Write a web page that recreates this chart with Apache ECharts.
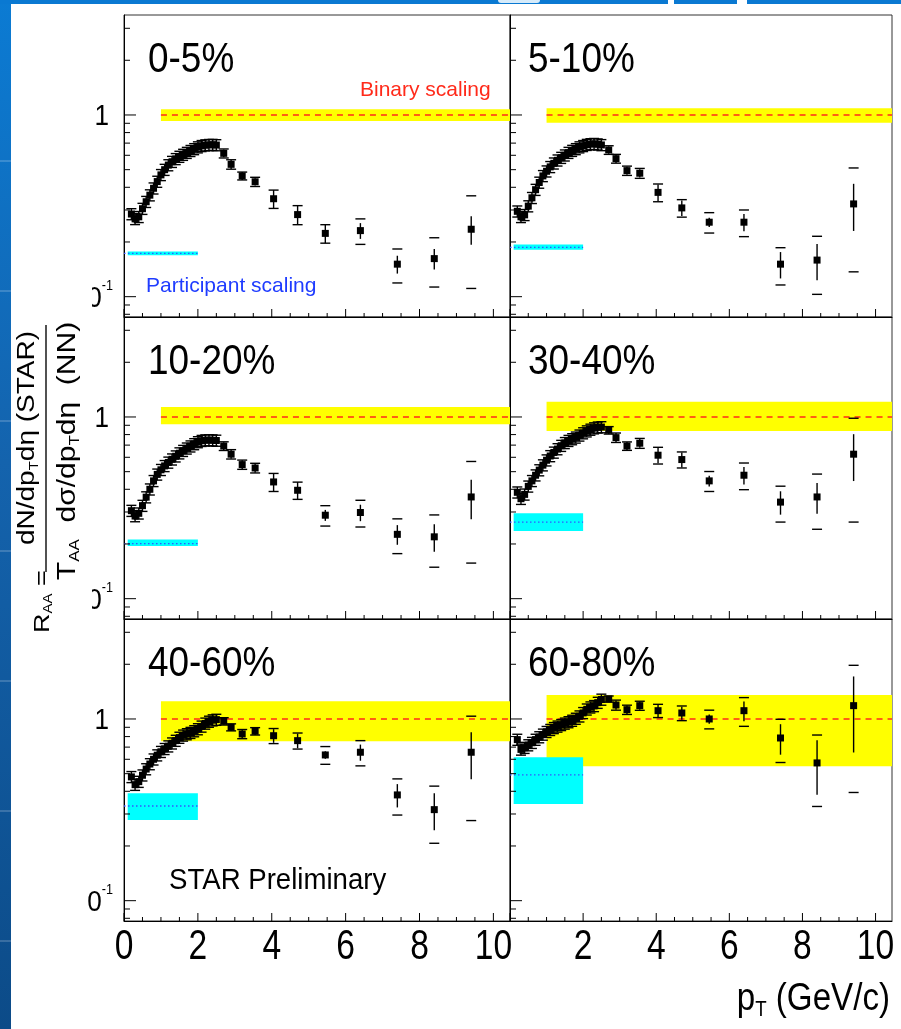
<!DOCTYPE html>
<html>
<head>
<meta charset="utf-8">
<script src="https://cdn.jsdelivr.net/npm/echarts@6/dist/echarts.min.js"></script>
<style>
  html, body { margin: 0; padding: 0; background: #ffffff; }
  #chart { width: 901px; height: 1029px; }
</style>
</head>
<body>
<div id="chart"></div>
<script>
// ---- data -----------------------------------------------------------------
const centralities = ['0-5%', '5-10%', '10-20%', '30-40%', '40-60%', '60-80%'];

// dense low-pT points (GeV/c)
const lowPt = [0.2, 0.3, 0.4, 0.5, 0.6, 0.7, 0.8, 0.9, 1.0, 1.1, 1.2, 1.3,
               1.4, 1.5, 1.6, 1.7, 1.8, 1.9, 2.0, 2.1, 2.2, 2.3, 2.4, 2.5];
// sparse high-pT points (GeV/c)
const highPt = [2.7, 2.9, 3.2, 3.55, 4.05, 4.7, 5.45, 6.4, 7.4, 8.4, 9.4];

const low0005 = [0.285, 0.268, 0.275, 0.305, 0.333, 0.362, 0.395, 0.430, 0.468, 0.500, 0.530, 0.553,
                 0.573, 0.590, 0.605, 0.620, 0.635, 0.650, 0.665, 0.676, 0.682, 0.685, 0.686, 0.683];
const low0510 = [0.295, 0.275, 0.282, 0.315, 0.350, 0.388, 0.425, 0.462, 0.490, 0.518, 0.542, 0.563,
                 0.582, 0.600, 0.620, 0.636, 0.650, 0.665, 0.676, 0.686, 0.692, 0.694, 0.690, 0.684];
const low1020 = [0.305, 0.285, 0.295, 0.325, 0.362, 0.400, 0.445, 0.483, 0.512, 0.538, 0.562, 0.585,
                 0.608, 0.632, 0.652, 0.672, 0.690, 0.710, 0.728, 0.740, 0.745, 0.746, 0.745, 0.742];
const low3040 = [0.385, 0.355, 0.375, 0.415, 0.445, 0.478, 0.510, 0.543, 0.578, 0.610, 0.638, 0.666,
                 0.695, 0.720, 0.740, 0.756, 0.772, 0.792, 0.815, 0.835, 0.853, 0.868, 0.877, 0.880];
const low4060 = [0.480, 0.435, 0.452, 0.490, 0.530, 0.565, 0.600, 0.632, 0.660, 0.685, 0.708, 0.735,
                 0.760, 0.790, 0.812, 0.826, 0.840, 0.858, 0.880, 0.910, 0.945, 0.968, 0.985, 0.992];
const low6080 = [0.770, 0.680, 0.695, 0.718, 0.740, 0.770, 0.795, 0.822, 0.850, 0.872, 0.893, 0.910,
                 0.928, 0.945, 0.962, 0.980, 1.005, 1.035, 1.080, 1.130, 1.160, 1.180, 1.230, 1.280];

const high0005 = [0.615, 0.535, 0.462, 0.429, 0.346, 0.283, 0.223, 0.231, 0.151, 0.162, 0.235];
const stat0005 = [0.030, 0.030, 0.023, 0.020, 0.040, 0.034, 0.026, 0.023, 0.017, 0.021, 0.042];
const sys0005  = [0.035, 0.032, 0.023, 0.025, 0.040, 0.034, 0.026, 0.037, 0.032, 0.049, 0.124];

const high0510 = [0.642, 0.575, 0.494, 0.478, 0.375, 0.308, 0.257, 0.257, 0.151, 0.159, 0.324];
const stat0510 = [0.030, 0.030, 0.025, 0.025, 0.040, 0.030, 0.015, 0.028, 0.025, 0.036, 0.094];
const sys0510  = [0.035, 0.032, 0.029, 0.030, 0.042, 0.034, 0.033, 0.043, 0.035, 0.056, 0.187];

const high1020 = [0.692, 0.624, 0.547, 0.524, 0.439, 0.395, 0.288, 0.298, 0.226, 0.219, 0.363];
const stat1020 = [0.035, 0.035, 0.030, 0.030, 0.050, 0.043, 0.020, 0.031, 0.028, 0.038, 0.089];
const sys1020  = [0.038, 0.037, 0.032, 0.032, 0.050, 0.043, 0.037, 0.050, 0.049, 0.070, 0.206];

const high3040 = [0.845, 0.770, 0.692, 0.717, 0.616, 0.583, 0.445, 0.478, 0.340, 0.363, 0.624];
const stat3040 = [0.040, 0.046, 0.037, 0.040, 0.060, 0.055, 0.030, 0.053, 0.050, 0.070, 0.180];
const sys3040  = [0.040, 0.046, 0.037, 0.045, 0.065, 0.059, 0.056, 0.080, 0.076, 0.122, 0.360];

const high4060 = [0.971, 0.900, 0.827, 0.856, 0.809, 0.760, 0.634, 0.656, 0.382, 0.317, 0.656];
const stat4060 = [0.040, 0.040, 0.045, 0.040, 0.070, 0.070, 0.030, 0.067, 0.056, 0.073, 0.190];
const sys4060  = [0.045, 0.040, 0.048, 0.040, 0.077, 0.077, 0.071, 0.104, 0.086, 0.110, 0.380];

const high6080 = [1.288, 1.194, 1.125, 1.184, 1.111, 1.079, 1.000, 1.111, 0.786, 0.573, 1.184];
const stat6080 = [0.050, 0.070, 0.060, 0.060, 0.090, 0.090, 0.060, 0.138, 0.150, 0.190, 0.530];
const sys6080  = [0.050, 0.076, 0.066, 0.068, 0.093, 0.100, 0.118, 0.200, 0.210, 0.243, 0.790];

// relative systematic error of the low-pT points
const LOW_PT_SYS = 0.07;

// binary-collision scaling band (T_AA uncertainty) around R_AA = 1
const binaryLo = [0.927, 0.907, 0.912, 0.838, 0.754, 0.549];
const binaryHi = [1.075, 1.089, 1.135, 1.214, 1.250, 1.355];
const binaryStart = 1;

// participant scaling level and its band
const partVal = [0.173, 0.187, 0.201, 0.264, 0.332, 0.492];
const partLo  = [0.169, 0.181, 0.195, 0.236, 0.278, 0.340];
const partHi  = [0.177, 0.194, 0.212, 0.295, 0.390, 0.615];
const partRange = [0.1, 2];

// axis ticks and tick labels
const yMajorTicks = [0.1, 1];
const yMinorTicks = [0.08, 0.09, 0.2, 0.3, 0.4, 0.5, 0.6, 0.7, 0.8, 0.9, 2, 3];
const xMajorTicks = [0, 2, 4, 6, 8, 10];
const xMinorTicks = [0.5, 1, 1.5, 2.5, 3, 3.5, 4.5, 5, 5.5, 6.5, 7, 7.5, 8.5, 9, 9.5];
const xLabelsLeft  = [0, 2, 4, 6, 8, 10];
const xLabelsRight = [2, 4, 6, 8, 10];
const yLabelValues = [0.1, 1];
const yLabelTexts  = ['{n|10}{e|-1}', '{n|1}'];

const lowSets  = [low0005, low0510, low1020, low3040, low4060, low6080];
const highSets = [high0005, high0510, high1020, high3040, high4060, high6080];
const statSets = [stat0005, stat0510, stat1020, stat3040, stat4060, stat6080];
const sysSets  = [sys0005, sys0510, sys1020, sys3040, sys4060, sys6080];

// ---- layout ---------------------------------------------------------------
const FONT = "'Liberation Sans',Arial,Helvetica,sans-serif";
const X_MIN = 0, X_MAX = 10.45;
const Y_MIN = 0.0773, Y_MAX = 3.55;
const colLeft = [124, 510], colWidth = [386, 382];
const rowTop = [15, 317, 619], rowHeight = 302;

const grids = [], xAxes = [], yAxes = [], series = [];

function tickData() {
  const d = [];
  yMajorTicks.forEach(v => d.push([X_MIN, v, 0, 12]));
  yMinorTicks.forEach(v => d.push([X_MIN, v, 0, 6]));
  xMajorTicks.forEach(v => d.push([v, Y_MIN, 1, 8]));
  xMinorTicks.forEach(v => d.push([v, Y_MIN, 1, 4]));
  return d;
}

function renderTick(params, api) {
  const p = api.coord([api.value(0), api.value(1)]);
  const kind = api.value(2), len = api.value(3);
  const e = kind === 0 ? [p[0] + len, p[1]] : [p[0], p[1] - len];
  return { type: 'line', shape: { x1: p[0], y1: p[1], x2: e[0], y2: e[1] },
           style: { stroke: '#000', lineWidth: 1 } };
}

function renderXLabel(params, api) {
  const p = api.coord([api.value(0), api.value(1)]);
  return { type: 'text', x: p[0], y: p[1] + 26, scaleX: 0.8,
    style: { text: String(api.value(0)), font: '42px ' + FONT, fill: '#000',
             align: 'center', textAlign: 'center', verticalAlign: 'middle', textVerticalAlign: 'middle' } };
}

function renderYLabel(params, api) {
  const p = api.coord([api.value(0), api.value(1)]);
  const idx = params.dataIndex;
  return { type: 'text', x: p[0] - (idx === 0 ? 11 : 15), y: p[1] + 2, scaleX: 0.9,
    style: { text: yLabelTexts[idx], fill: '#000',
             align: 'right', textAlign: 'right', verticalAlign: 'middle', textVerticalAlign: 'middle',
             rich: { n: { fontSize: 29, fontFamily: FONT, lineHeight: 40 },
                     e: { fontSize: 14, fontFamily: FONT, lineHeight: 14, verticalAlign: 'top' } } } };
}

function renderBand(color) {
  return function (params, api) {
    const a = api.coord([api.value(0), api.value(3)]);
    const b = api.coord([api.value(1), api.value(2)]);
    return { type: 'rect', shape: { x: a[0], y: a[1], width: b[0] - a[0], height: b[1] - a[1] },
             style: { fill: color } };
  };
}

function renderPoint(params, api) {
  const x = api.value(0), y = api.value(1), st = api.value(2), sy = api.value(3), s = api.value(4);
  const c = api.coord([x, y]);
  const kids = [];
  if (st > 0) {
    const t = api.coord([x, y + st]);
    const b = api.coord([x, Math.max(y - st, Y_MIN)]);
    kids.push({ type: 'line', shape: { x1: c[0], y1: t[1], x2: c[0], y2: b[1] },
                style: { stroke: '#000', lineWidth: 1.4 } });
  }
  if (sy > 0) {
    [y + sy, y - sy].forEach(v => {
      const p = api.coord([x, v]);
      kids.push({ type: 'line', shape: { x1: c[0] - 5, y1: p[1], x2: c[0] + 5, y2: p[1] },
                  style: { stroke: '#000', lineWidth: 1.4 } });
    });
  }
  kids.push({ type: 'rect', shape: { x: c[0] - s / 2, y: c[1] - s / 2, width: s, height: s },
              style: { fill: '#000' } });
  return { type: 'group', children: kids };
}

centralities.forEach((name, i) => {
  const col = i % 2, row = Math.floor(i / 2);
  grids.push({ left: colLeft[col], top: rowTop[row], width: colWidth[col], height: rowHeight,
               show: true, borderColor: '#333', borderWidth: 1, backgroundColor: 'transparent',
               containLabel: false, outerBoundsMode: 'none' });
  xAxes.push({
    gridIndex: i, type: 'value', min: X_MIN, max: X_MAX, interval: 2,
    axisLine: { show: true, lineStyle: { color: '#000', width: 1 } },
    axisTick: { show: false }, splitLine: { show: false }, axisLabel: { show: false }
  });
  yAxes.push({
    gridIndex: i, type: 'log', logBase: 10, min: Y_MIN, max: Y_MAX,
    axisLine: { show: true, lineStyle: { color: '#000', width: 1 } },
    axisTick: { show: false }, splitLine: { show: false }, minorTick: { show: false },
    axisLabel: { show: false }
  });

  // binary scaling band + dashed reference line
  series.push({ type: 'custom', xAxisIndex: i, yAxisIndex: i, silent: true, z: 1,
                encode: { x: [0, 1], y: [2, 3] },
                data: [[binaryStart, X_MAX, binaryLo[i], binaryHi[i]]],
                renderItem: renderBand('#ffff00') });
  series.push({ type: 'line', xAxisIndex: i, yAxisIndex: i, silent: true, z: 3, symbol: 'none',
                data: [[binaryStart, 1], [X_MAX, 1]],
                lineStyle: { color: '#ff2a1a', width: 1.4, type: [6, 5] } });
  // participant scaling band + dotted line
  series.push({ type: 'custom', xAxisIndex: i, yAxisIndex: i, silent: true, z: 1,
                encode: { x: [0, 1], y: [2, 3] },
                data: [[partRange[0], partRange[1], partLo[i], partHi[i]]],
                renderItem: renderBand('#00ffff') });
  series.push({ type: 'line', xAxisIndex: i, yAxisIndex: i, silent: true, z: 3, symbol: 'none',
                data: [[X_MIN, partVal[i]], [partRange[1], partVal[i]]],
                lineStyle: { color: '#3355ff', width: 1.3, type: [1.5, 2.5] } });

  // measured points
  const pts = [];
  lowPt.forEach((pt, k) => {
    const v = lowSets[i][k];
    pts.push([pt, v, v * LOW_PT_SYS, v * LOW_PT_SYS, 7]);
  });
  highPt.forEach((pt, k) => {
    pts.push([pt, highSets[i][k], statSets[i][k], sysSets[i][k], 7]);
  });
  series.push({ type: 'custom', xAxisIndex: i, yAxisIndex: i, silent: true, z: 5,
                encode: { x: 0, y: 1 }, data: pts, renderItem: renderPoint });

  // axis ticks drawn inward
  series.push({ type: 'custom', xAxisIndex: i, yAxisIndex: i, silent: true, z: 6,
                encode: { x: 0, y: 1 }, data: tickData(), renderItem: renderTick });

  // tick labels: x on the bottom row, y on the left column
  if (row === 2) {
    const xl = (col === 0 ? xLabelsLeft : xLabelsRight).map(v => [v, Y_MIN]);
    series.push({ type: 'custom', xAxisIndex: i, yAxisIndex: i, silent: true, z: 6,
                  encode: { x: 0, y: 1 }, data: xl, renderItem: renderXLabel });
  }
  if (col === 0) {
    series.push({ type: 'custom', xAxisIndex: i, yAxisIndex: i, silent: true, z: 6,
                  encode: { x: 0, y: 1 }, data: yLabelValues.map(v => [X_MIN, v]),
                  renderItem: renderYLabel });
  }
});

// ---- annotations ------------------------------------------------------------
const graphics = [];

// slide frame
graphics.push({ type: 'rect', z: -10, shape: { x: 0, y: 0, width: 901, height: 1029 },
  style: { fill: new echarts.graphic.LinearGradient(0, 0, 0, 1, [
    { offset: 0, color: '#0b7bd3' }, { offset: 0.45, color: '#1463ad' }, { offset: 1, color: '#0c4b88' }]) } });
[160, 290, 420, 550, 680, 810, 940].forEach(y => graphics.push({ type: 'rect', z: -9,
  shape: { x: 0, y: y, width: 11, height: 2 }, style: { fill: 'rgba(255,255,255,0.18)' } }));
graphics.push({ type: 'rect', z: -9, shape: { x: 0, y: 0, width: 901, height: 4 }, style: { fill: '#0a79d2' } });
graphics.push({ type: 'rect', z: -9, shape: { x: 498, y: 0, width: 42, height: 3, r: [0, 0, 3, 3] },
  style: { fill: '#d6ebfa' } });
graphics.push({ type: 'rect', z: -9, shape: { x: 668, y: 0, width: 6, height: 4 }, style: { fill: '#ffffff' } });
graphics.push({ type: 'rect', z: -9, shape: { x: 737, y: 0, width: 10, height: 4 }, style: { fill: '#ffffff' } });
graphics.push({ type: 'rect', z: -8, shape: { x: 11, y: 4, width: 890, height: 1025 }, style: { fill: '#ffffff' } });

function txt(x, y, text, size, color, sx, align) {
  return { type: 'text', z: 20, x: x, y: y, scaleX: sx,
    style: { text: text, font: size + 'px ' + FONT, fill: color,
             textAlign: align || 'left', align: align || 'left',
             textVerticalAlign: 'middle', verticalAlign: 'middle' } };
}

// panel labels
const labelX = [148, 528];
centralities.forEach((name, i) => {
  graphics.push(txt(labelX[i % 2], rowTop[Math.floor(i / 2)] + 45, name, 42, '#000', 0.88));
});
graphics.push(txt(360, 90, 'Binary scaling', 21, '#ff2a1a', 1));
graphics.push(txt(146, 286, 'Participant scaling', 21, '#1f3cff', 1));
graphics.push(txt(169, 881, 'STAR Preliminary', 30, '#000', 0.92));

// x-axis title
graphics.push({ type: 'text', z: 20, x: 890, y: 999, scaleX: 0.85,
  style: { text: '{b|p}{s|T}{b| (GeV/c)}', fill: '#000',
           textAlign: 'right', align: 'right', textVerticalAlign: 'middle', verticalAlign: 'middle',
           rich: { b: { fontSize: 39, fontFamily: FONT, lineHeight: 44 },
                   s: { fontSize: 22, fontFamily: FONT, lineHeight: 22, verticalAlign: 'bottom' } } } });

// y-axis title area (white box) and rotated ratio definition
graphics.push({ type: 'rect', z: 100, shape: { x: 11, y: 272, width: 81, height: 435 }, style: { fill: '#ffffff' } });
graphics.push({ type: 'rect', z: 100, shape: { x: 11, y: 878, width: 76, height: 48 }, style: { fill: '#ffffff' } });
function titleRich(size) {
  return {
    b: { fontSize: size, fontFamily: FONT, lineHeight: size + 3 },
    s: { fontSize: Math.round(size * 0.55), fontFamily: FONT, lineHeight: Math.round(size * 0.55),
         verticalAlign: 'bottom' }
  };
}
function titleText(x, y, text, align, size) {
  return { type: 'text', z: 101, x: x, y: y,
    style: { text: text, fill: '#000', rich: titleRich(size),
             textAlign: align, align: align, textVerticalAlign: 'middle', verticalAlign: 'middle' } };
}
graphics.push({ type: 'group', z: 101, x: 46, y: 633, rotation: Math.PI / 2, scaleY: 0.85, children: [
  titleText(0, -4, '{b|R}{s|AA}{b| =}', 'left', 27),
  { type: 'line', z: 101, shape: { x1: 61, y1: 0, x2: 308, y2: 0 }, style: { stroke: '#000', lineWidth: 1.6 } },
  titleText(195, -22, '{b|dN/dp}{s|T}{b|dη (STAR)}', 'center', 28),
  titleText(182, 26, '{b|T}{s|AA}{b|  dσ/dp}{s|T}{b|dη  (NN)}', 'center', 30)
] });

const chart = echarts.init(document.getElementById('chart'), null, { renderer: 'canvas' });
chart.setOption({
  animation: false,
  backgroundColor: 'transparent',
  grid: grids,
  xAxis: xAxes,
  yAxis: yAxes,
  series: series,
  graphic: { elements: graphics }
});
</script>
</body>
</html>
